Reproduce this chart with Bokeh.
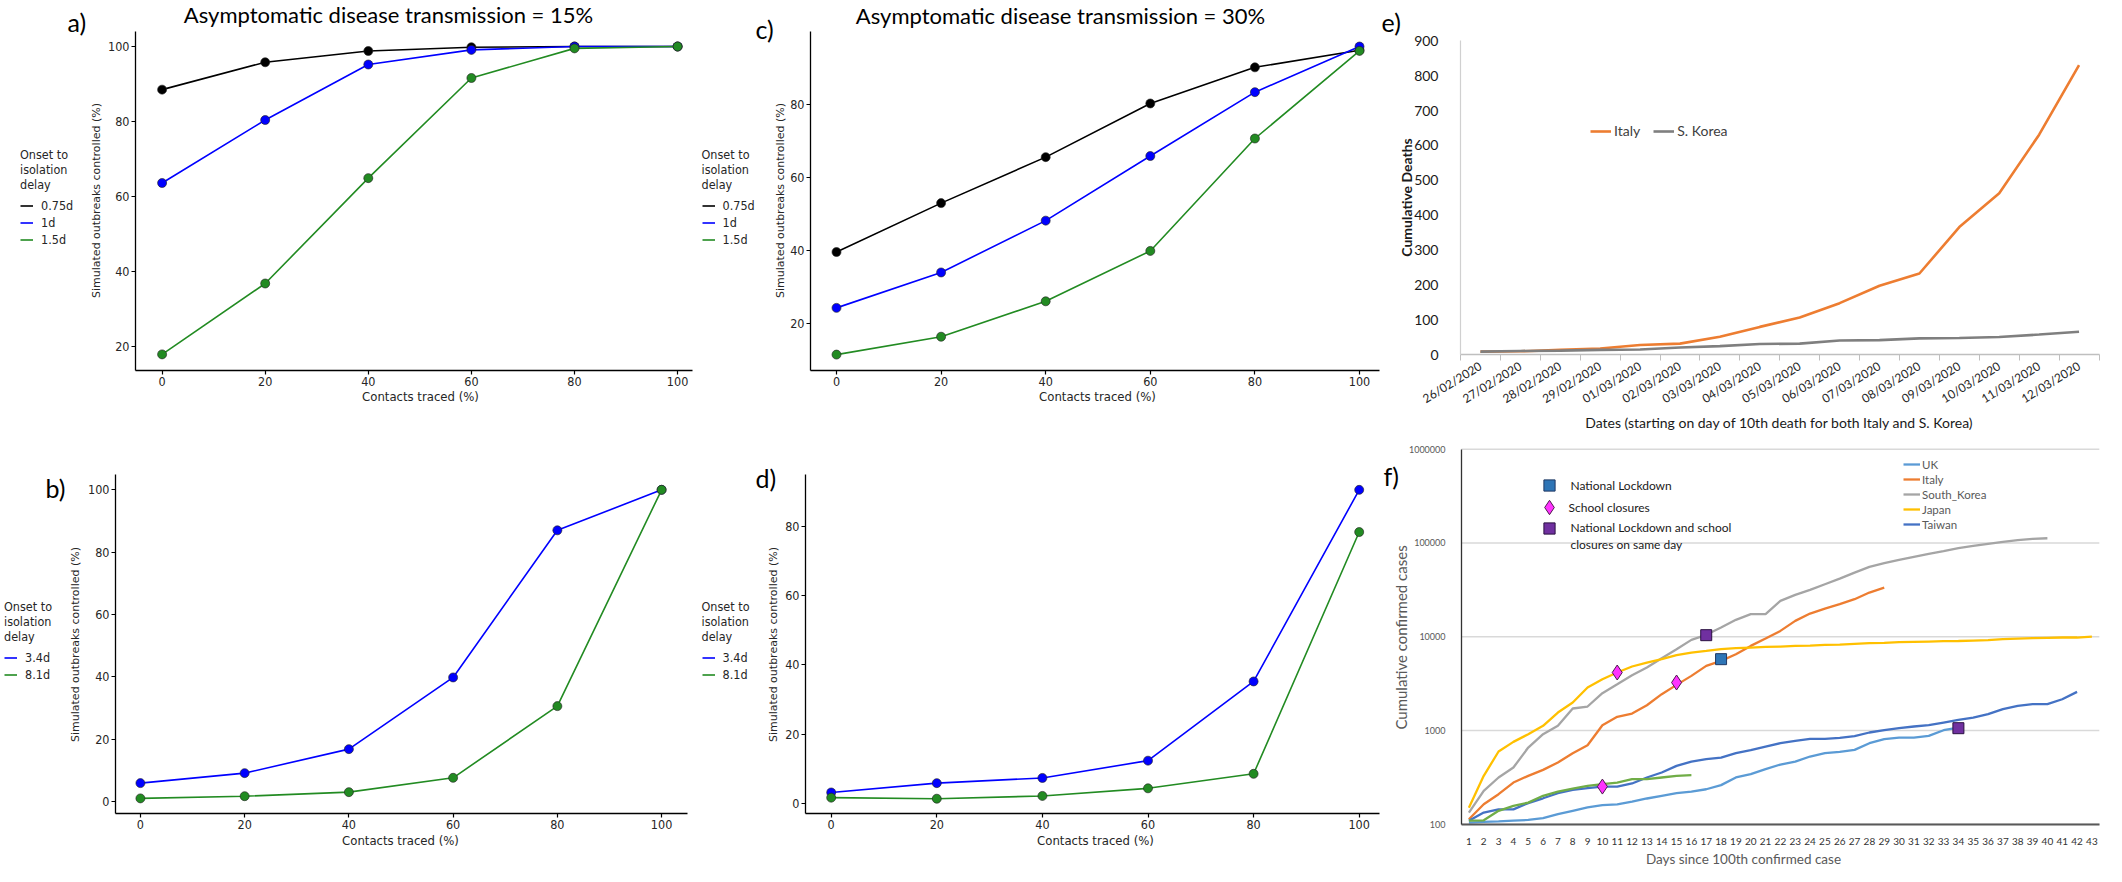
import numpy as np
from bokeh.plotting import figure
from bokeh.layouts import row, column
from bokeh.models import (Range1d, Legend, LegendItem, Label, FixedTicker,
                          PrintfTickFormatter)
from bokeh.embed import file_html
from bokeh.resources import INLINE

# ---------------- data ----------------
contacts_traced = [0, 20, 40, 60, 80, 100]

# a) asymptomatic transmission 15 %
a_delay_075 = [88.5, 95.8, 98.8, 99.8, 100, 100]
a_delay_1 = [63.6, 80.4, 95.2, 99.1, 100, 100]
a_delay_15 = [17.9, 36.8, 64.9, 91.6, 99.5, 100]
# c) asymptomatic transmission 30 %
c_delay_075 = [39.5, 52.9, 65.5, 80.2, 90.1, 94.8]
c_delay_1 = [24.2, 33.9, 48.1, 65.8, 83.3, 95.8]
c_delay_15 = [11.4, 16.3, 26.0, 39.8, 70.6, 94.6]
# b) 15 %, long delays
b_delay_34 = [5.9, 9.1, 16.8, 39.8, 87.0, 100]
b_delay_81 = [1.0, 1.7, 3.0, 7.6, 30.6, 100]
# d) 30 %, long delays
d_delay_34 = [3.1, 5.8, 7.3, 12.3, 35.2, 90.6]
d_delay_81 = [1.6, 1.3, 2.1, 4.3, 8.5, 78.4]

# e) cumulative deaths
death_dates = ["26/02/2020", "27/02/2020", "28/02/2020", "29/02/2020",
               "01/03/2020", "02/03/2020", "03/03/2020", "04/03/2020",
               "05/03/2020", "06/03/2020", "07/03/2020", "08/03/2020",
               "09/03/2020", "10/03/2020", "11/03/2020", "12/03/2020"]
italy_deaths = [9, 10, 14, 18, 28, 32, 52, 80, 107, 148, 198, 233, 366, 463, 631, 830]
korea_deaths = [9, 11, 12, 14, 15, 21, 25, 31, 32, 41, 42, 47, 48, 51, 58, 66]

# f) cumulative confirmed cases since 100th case
day_labels = [str(d) for d in range(1, 44)]
uk_cases = [104, 106, 107, 109, 111, 116, 128, 139, 151, 160, 163, 174, 188, 201,
            214, 223, 236, 261, 315, 342, 386, 433, 466, 527, 572, 591, 621, 731,
            807, 840, 840, 875, 1006, 1074]
italy_cases = [113, 163, 209, 278, 328, 380, 455, 572, 696, 1137, 1396, 1515, 1858,
               2437, 3063, 3820, 4886, 5520, 6500, 7980, 9550, 11530, 14750, 17660,
               19960, 22210, 25120, 29580, 33450]
korea_cases = [133, 227, 315, 402, 657, 912, 1120, 1714, 1800, 2500, 3110, 3880,
               4690, 5900, 7360, 9250, 10470, 12530, 15130, 17400, 17400, 24100,
               27900, 31600, 36300, 41700, 48300, 55600, 60800, 66000, 71100, 76600,
               81700, 87900, 93100, 97800, 102700, 107000, 110700, 112300]
japan_cases = [150, 328, 596, 755, 912, 1120, 1553, 1985, 2870, 3522, 4150, 4810,
               5300, 5750, 6350, 6780, 7060, 7360, 7540, 7660, 7790, 7850, 7980,
               8050, 8180, 8250, 8390, 8530, 8600, 8740, 8810, 8880, 8950, 9000,
               9100, 9180, 9400, 9550, 9640, 9720, 9800, 9800, 10040]
taiwan_cases = [109, 133, 144, 144, 168, 189, 214, 232, 242, 252, 252, 272, 315, 356,
                419, 466, 494, 514, 572, 616, 673, 731, 774, 813, 813, 834, 869, 951,
                1006, 1057, 1102, 1137, 1214, 1297, 1374, 1490, 1686, 1830, 1905,
                1905, 2153, 2580]
green_cases = [109, 110, 139, 157, 170, 201, 223, 240, 256, 267, 278, 302, 302, 315,
               328, 333]
lockdown_days = [18]
lockdown_cases = [5760]
school_days = [10, 11, 15]
school_cases = [252, 4150, 3245]
both_days = [17, 34]
both_cases = [10380, 1057]
decades = [100, 1000, 10000, 100000, 1000000]

# ---------------- helpers ----------------
COND = "DejaVu Sans Condensed, DejaVu Sans"
LATO = "Lato"
LETTER_SIZE = "25px"


class Panel:
    """Maps reference-image pixels to data units for one figure."""

    def __init__(self, box, xcal, ycal, ylog=False):
        self.L, self.R, self.T, self.B = box
        xv1, xp1, xv2, xp2 = xcal
        yv1, yp1, yv2, yp2 = ycal
        self.xv1, self.xp1, self.xk = xv1, xp1, (xv2 - xv1) / (xp2 - xp1)
        self.yv1, self.yp1, self.yk = yv1, yp1, (yv2 - yv1) / (yp2 - yp1)
        self.ylog = ylog

    def x(self, px):
        return self.xv1 + (px - self.xp1) * self.xk

    def y(self, py):
        v = self.yv1 + (py - self.yp1) * self.yk
        return 10 ** v if self.ylog else v

    def fig(self):
        kw = dict(y_axis_type="log") if self.ylog else {}
        p = figure(width=self.R - self.L, height=self.B - self.T,
                   x_range=Range1d(self.x(self.L), self.x(self.R)),
                   y_range=Range1d(self.y(self.B), self.y(self.T)),
                   min_border=0, min_border_left=0, min_border_right=0,
                   min_border_top=0, min_border_bottom=0,
                   toolbar_location=None, output_backend="svg", **kw)
        p.outline_line_color = None
        p.xgrid.visible = False
        p.ygrid.visible = False
        return p

    def text(self, p, px, py, text, size, font=LATO, align="left",
             color="black", style="normal", angle=0.0):
        p.add_layout(Label(x=self.x(px), y=self.y(py), text=text, text_font=font,
                           text_font_size=size, text_align=align,
                           text_baseline="middle", text_color=color,
                           text_font_style=style, angle=angle))

    def loc(self, px_left, py_bottom):
        return (px_left - self.L, self.B - py_bottom)


def style_sim(P, p, yticks, ax_px, ax_py, top_py, right_px):
    p.xaxis.ticker = FixedTicker(ticks=contacts_traced)
    p.yaxis.ticker = FixedTicker(ticks=yticks)
    p.yaxis.fixed_location = P.x(ax_px)
    p.yaxis.bounds = (P.y(ax_py), P.y(top_py))
    p.xaxis.fixed_location = P.y(ax_py)
    p.xaxis.bounds = (P.x(ax_px), P.x(right_px))
    for ax in (p.xaxis[0], p.yaxis[0]):
        ax.axis_line_color = "black"
        ax.axis_line_width = 1.3
        ax.major_tick_line_color = "black"
        ax.major_tick_line_width = 1.2
        ax.major_tick_out = 4
        ax.major_tick_in = 0
        ax.minor_tick_line_color = None
        ax.major_label_text_font = COND
        ax.major_label_text_font_size = "12.5px"
        ax.major_label_text_color = "#262626"
        ax.major_label_standoff = 2


def sim_series(p, ys, color):
    ln = p.line(contacts_traced, ys, line_color=color, line_width=1.6)
    p.scatter(contacts_traced, ys, size=9, fill_color=color, line_color="#222222",
              line_width=0.8, line_alpha=0.8)
    return ln


def sim_legend(p, items, loc):
    leg = Legend(items=[LegendItem(label=lab, renderers=[r]) for lab, r in items],
                 location=loc, title="Onset to\nisolation\ndelay",
                 title_text_font=COND, title_text_font_size="12.5px",
                 title_text_font_style="normal", title_text_color="#262626",
                 title_text_line_height=1.0, title_standoff=5,
                 label_text_font=COND, label_text_font_size="12.5px",
                 label_text_color="#262626", glyph_width=13, glyph_height=17,
                 label_height=17, label_standoff=8, spacing=0, padding=0, margin=0,
                 border_line_color=None, background_fill_alpha=0)
    p.add_layout(leg)


def sim_axis_titles(P, p, xc, yc):
    P.text(p, xc[0], xc[1], "Contacts traced (%)", "13px", font=COND,
           align="center", color="#262626")
    P.text(p, yc[0], yc[1], "Simulated outbreaks controlled (%)", "11px",
           font="DejaVu Sans", align="center", color="#262626", angle=np.pi / 2)


BLACK, BLUE, GREEN = "#000000", "#0000FF", "#228B22"

# ---------------- panel a ----------------
Pa = Panel((8, 704, 8, 440), (0, 169.6, 80, 582.0), (100, 54.0, 20, 354.0))
pa = Pa.fig()
style_sim(Pa, pa, [20, 40, 60, 80, 100], 143, 378, 39, 700)
la1 = sim_series(pa, a_delay_075, BLACK)
la2 = sim_series(pa, a_delay_1, BLUE)
la3 = sim_series(pa, a_delay_15, GREEN)
sim_legend(pa, [("0.75d", la1), ("1d", la2), ("1.5d", la3)], Pa.loc(28, 255.5))
sim_axis_titles(Pa, pa, (428, 404), (104, 208))
Pa.text(pa, 75, 29, "a)", LETTER_SIZE)
Pa.text(pa, 396, 22, "Asymptomatic disease transmission = 15%", "22px",
        align="center")

# ---------------- panel c ----------------
Pc = Panel((704, 1388, 8, 440), (0, 844.0, 80, 1262.4), (80, 111.7, 20, 330.7))
pc = Pc.fig()
style_sim(Pc, pc, [20, 40, 60, 80], 818, 378, 39, 1387)
lc1 = sim_series(pc, c_delay_075, BLACK)
lc2 = sim_series(pc, c_delay_1, BLUE)
lc3 = sim_series(pc, c_delay_15, GREEN)
sim_legend(pc, [("0.75d", lc1), ("1d", lc2), ("1.5d", lc3)], Pc.loc(709.5, 255.5))
sim_axis_titles(Pc, pc, (1105, 404), (787.5, 208))
Pc.text(pc, 763, 36, "c)", LETTER_SIZE)
Pc.text(pc, 1068, 23, "Asymptomatic disease transmission = 30%", "22px",
        align="center")

# ---------------- panel b ----------------
Pb = Panel((8, 704, 440, 874), (0, 147.9, 100, 669.1), (100, 497.3, 0, 809.0))
pb = Pb.fig()
style_sim(Pb, pb, [0, 20, 40, 60, 80, 100], 123, 821, 482, 695)
lb1 = sim_series(pb, b_delay_34, BLUE)
lb2 = sim_series(pb, b_delay_81, GREEN)
sim_legend(pb, [("3.4d", lb1), ("8.1d", lb2)], Pb.loc(12, 690.5))
sim_axis_titles(Pb, pb, (408, 848), (83, 652))
Pb.text(pb, 53, 495, "b)", LETTER_SIZE)

# ---------------- panel d ----------------
Pd = Panel((704, 1388, 440, 874), (0, 838.7, 80, 1261.1), (80, 534.0, 0, 810.7))
pd_ = Pd.fig()
style_sim(Pd, pd_, [0, 20, 40, 60, 80], 813, 821, 482, 1387)
ld1 = sim_series(pd_, d_delay_34, BLUE)
ld2 = sim_series(pd_, d_delay_81, GREEN)
sim_legend(pd_, [("3.4d", ld1), ("8.1d", ld2)], Pd.loc(709.5, 690.5))
sim_axis_titles(Pd, pd_, (1103, 848), (780.5, 652))
Pd.text(pd_, 763, 485, "d)", LETTER_SIZE)

# ---------------- panel e ----------------
n_dates = len(death_dates)
Pe = Panel((1388, 2114, 8, 440), (0, 1468.0, n_dates, 2106.5), (0, 362.3, 900, 48.3))
pe = Pe.fig()
centers = [i + 0.5 for i in range(n_dates)]
le1 = pe.line(centers, italy_deaths, line_color="#ED7D31", line_width=2.6)
le2 = pe.line(centers, korea_deaths, line_color="#7F7F7F", line_width=2.6)
pe.xaxis.fixed_location = 0
pe.xaxis.bounds = (0, n_dates)
pe.yaxis.fixed_location = 0
pe.yaxis.bounds = (0, 900)
pe.xaxis.ticker = FixedTicker(ticks=centers, minor_ticks=list(range(n_dates + 1)))
pe.xaxis.major_label_overrides = {c: d for c, d in zip(centers, death_dates)}
pe.xaxis.major_label_orientation = 0.55
pe.xaxis.major_tick_line_color = None
pe.xaxis.minor_tick_line_color = "#bfbfbf"
pe.xaxis.minor_tick_out = 6
pe.xaxis.minor_tick_in = 0
pe.xaxis.axis_line_color = "#bfbfbf"
pe.xaxis.axis_line_width = 1.3
pe.xaxis.major_label_text_font = LATO
pe.xaxis.major_label_text_font_size = "12px"
pe.xaxis.major_label_text_color = "#262626"
pe.xaxis.major_label_standoff = 4
pe.yaxis.ticker = FixedTicker(ticks=list(range(0, 901, 100)))
pe.yaxis.major_tick_line_color = None
pe.yaxis.minor_tick_line_color = None
pe.yaxis.axis_line_color = "#d0d0d0"
pe.yaxis.axis_line_width = 1.2
pe.yaxis.major_label_text_font = LATO
pe.yaxis.major_label_text_font_size = "14px"
pe.yaxis.major_label_text_color = "#1a1a1a"
pe.yaxis.major_label_standoff = 16
Pe.text(pe, 1787, 430, "Dates (starting on day of 10th death for both Italy and S. Korea)",
        "14px", align="center", color="#1a1a1a")
Pe.text(pe, 1414, 205, "Cumulative Deaths", "14px", align="center",
        color="#1a1a1a", style="bold", angle=np.pi / 2)
pe.add_layout(Legend(items=[LegendItem(label="Italy", renderers=[le1]),
                            LegendItem(label="S. Korea", renderers=[le2])],
                     location=Pe.loc(1598, 147), orientation="horizontal",
                     label_text_font=LATO, label_text_font_size="14px",
                     label_text_color="#404040", glyph_width=21, glyph_height=16,
                     label_height=16, label_standoff=3, spacing=13, padding=0,
                     margin=0, border_line_color=None, background_fill_alpha=0))
Pe.text(pe, 1389, 29, "e)", LETTER_SIZE)

# ---------------- panel f ----------------
Pf = Panel((1388, 2114, 440, 874), (1, 1476.4, 43, 2099.4), (2, 831.7, 6, 456.7),
           ylog=True)
pf = Pf.fig()
n_dec = len(decades)
pf.segment(x0=[0.5] * n_dec, x1=[43.5] * n_dec, y0=decades, y1=decades,
           line_color="#d9d9d9", line_width=1.5)


def days_for(vals):
    return list(range(1, len(vals) + 1))


lf_uk = pf.line(days_for(uk_cases), uk_cases, line_color="#5B9BD5", line_width=2.3)
lf_it = pf.line(days_for(italy_cases), italy_cases, line_color="#ED7D31", line_width=2.3)
lf_kr = pf.line(days_for(korea_cases), korea_cases, line_color="#A5A5A5", line_width=2.3)
lf_jp = pf.line(days_for(japan_cases), japan_cases, line_color="#FFC000", line_width=2.3)
lf_tw = pf.line(days_for(taiwan_cases), taiwan_cases, line_color="#4472C4", line_width=2.3)
pf.line(days_for(green_cases), green_cases, line_color="#70AD47", line_width=2.3)
m_lock = pf.scatter(lockdown_days, lockdown_cases, marker="square", size=11,
                    fill_color="#2E75B6", line_color="#1F3864", line_width=1)
m_school = pf.scatter(school_days, school_cases, marker="diamond", size=15,
                      fill_color="#FF33FF", line_color="#4d1a4d", line_width=1)
m_both = pf.scatter(both_days, both_cases, marker="square", size=11,
                    fill_color="#7030A0", line_color="#2a1040", line_width=1)

pf.xaxis.fixed_location = 100
pf.xaxis.bounds = (0.5, 43.5)
pf.yaxis.fixed_location = 0.5
pf.yaxis.bounds = (100, 1000000)
pf.xaxis.ticker = FixedTicker(ticks=list(range(1, 44)))
pf.xaxis.major_label_overrides = {i + 1: s for i, s in enumerate(day_labels)}
pf.xaxis.major_tick_line_color = None
pf.xaxis.minor_tick_line_color = None
pf.xaxis.axis_line_color = "#595959"
pf.xaxis.axis_line_width = 2
pf.xaxis.major_label_text_font = LATO
pf.xaxis.major_label_text_font_size = "10px"
pf.xaxis.major_label_text_color = "#333333"
pf.xaxis.major_label_standoff = 8
pf.yaxis.ticker = FixedTicker(ticks=decades)
pf.yaxis.formatter = PrintfTickFormatter(format="%d")
pf.yaxis.major_tick_line_color = None
pf.yaxis.minor_tick_line_color = None
pf.yaxis.axis_line_color = "#333333"
pf.yaxis.axis_line_width = 1.3
pf.yaxis.major_label_text_font = LATO
pf.yaxis.major_label_text_font_size = "9px"
pf.yaxis.major_label_text_color = "#595959"
pf.yaxis.major_label_standoff = 10
Pf.text(pf, 1751, 866, "Days since 100th confirmed case", "13.5px", align="center",
        color="#595959")
Pf.text(pf, 1408, 645, "Cumulative confirmed cases", "15px", align="center",
        color="#595959", angle=np.pi / 2)

pf.add_layout(Legend(items=[LegendItem(label="UK", renderers=[lf_uk]),
                            LegendItem(label="Italy", renderers=[lf_it]),
                            LegendItem(label="South_Korea", renderers=[lf_kr]),
                            LegendItem(label="Japan", renderers=[lf_jp]),
                            LegendItem(label="Taiwan", renderers=[lf_tw])],
                     location=Pf.loc(1911, 539.3), label_text_font=LATO,
                     label_text_font_size="11.5px", label_text_color="#595959",
                     glyph_width=17, glyph_height=14, label_height=14,
                     label_standoff=2, spacing=1, padding=0, margin=0,
                     border_line_color=None, background_fill_alpha=0))


def marker_legend(label, rend, box, cx, cy, text_px):
    pf.add_layout(Legend(items=[LegendItem(label=label, renderers=[rend])],
                         location=Pf.loc(cx - box / 2, cy + box / 2),
                         label_text_font=LATO, label_text_font_size="12px",
                         label_text_color="#1a1a1a", glyph_width=box,
                         glyph_height=box, label_height=14,
                         label_standoff=int(round(text_px - (cx + box / 2))),
                         padding=0, margin=0, border_line_color=None,
                         background_fill_alpha=0))


marker_legend("National Lockdown", m_lock, 28, 1556.5, 493.3, 1578)
marker_legend("School closures", m_school, 36, 1556.5, 515.0, 1576)
marker_legend("National Lockdown and school", m_both, 28, 1556.5, 535.7, 1578)
Pf.text(pf, 1578, 552, "closures on same day", "12px", color="#1a1a1a")
Pf.text(pf, 1391, 483, "f)", LETTER_SIZE)

layout = column(row(pa, pc, pe), row(pb, pd_, pf))
open("out.html", "w").write(file_html(layout, INLINE))
